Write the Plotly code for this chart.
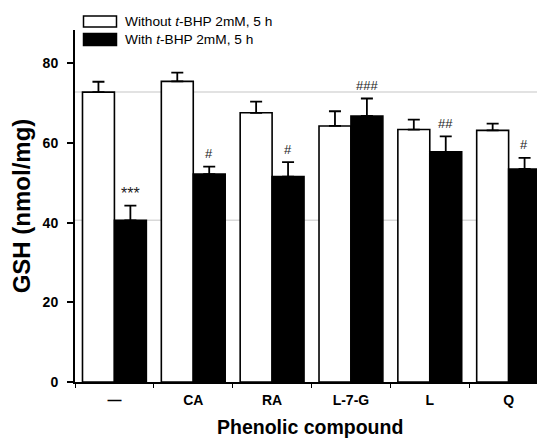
import plotly.graph_objects as go

# GSH content per phenolic compound, with and without t-BHP challenge
compounds = ["—", "CA", "RA", "L-7-G", "L", "Q"]
gsh_without = [72.8, 75.5, 67.6, 64.3, 63.4, 63.2]
err_without = [2.6, 2.2, 2.8, 3.7, 2.5, 1.7]
gsh_with = [40.6, 52.2, 51.6, 66.8, 57.8, 53.5]
err_with = [3.7, 1.9, 3.6, 4.4, 3.9, 2.8]
significance = ["***", "#", "#", "###", "##", "#"]

label_without = "Without <i>t</i>-BHP 2mM, 5 h"
label_with = "With <i>t</i>-BHP 2mM, 5 h"
x_title = "Phenolic compound"
y_title = "GSH (nmol/mg)"

FONT = "Liberation Sans, Arial, sans-serif"
W, H = 537, 439
ML, MR, MT, MB = 75, 0, 30, 57

fig = go.Figure()

fig.add_trace(go.Bar(
    x=compounds, y=gsh_without, name=label_without,
    marker=dict(color="white", line=dict(color="black", width=1.6)),
    error_y=dict(type="data", array=err_without, arrayminus=[0] * len(err_without),
                 symmetric=False, color="black", thickness=1.8, width=6),
    showlegend=False,
))
fig.add_trace(go.Bar(
    x=compounds, y=gsh_with, name=label_with,
    marker=dict(color="black", line=dict(color="black", width=1.6)),
    error_y=dict(type="data", array=err_with, arrayminus=[0] * len(err_with),
                 symmetric=False, color="black", thickness=1.8, width=6),
    showlegend=False,
))

# Reference lines at the untreated control levels
shapes = []
for level in (gsh_without[0], gsh_with[0]):
    shapes.append(dict(type="line", xref="paper", x0=0, x1=1, yref="y", y0=level, y1=level,
                       line=dict(color="#d9d9d9", width=1.5), layer="below"))

# Legend boxes (drawn by hand for wide swatches)
def px_x(p):
    return (p - ML) / (W - ML - MR)

def px_y(p):
    return 1 - (p - MT) / (H - MT - MB)

for (top, bot, fill) in [(16, 27, "white"), (33.5, 45.5, "black")]:
    shapes.append(dict(type="rect", xref="paper", yref="paper",
                       x0=px_x(83.5), x1=px_x(116.5), y0=px_y(bot), y1=px_y(top),
                       fillcolor=fill, line=dict(color="black", width=1.5)))

annotations = []
for (cy, text) in [(21.5, label_without), (39.5, label_with)]:
    annotations.append(dict(xref="paper", yref="paper", x=px_x(123), y=px_y(cy),
                            xanchor="left", yanchor="middle", text=text, showarrow=False,
                            font=dict(family=FONT, size=13.7, color="black")))

# x-axis title, set low near the bottom edge
annotations.append(dict(xref="paper", yref="paper", x=px_x(310), y=0, xanchor="center",
                        yanchor="middle", yshift=-45, text=x_title, showarrow=False,
                        font=dict(family=FONT, size=19.5, weight="bold", color="black")))

# Significance marks above the t-BHP bars
for i, (v, e, s) in enumerate(zip(gsh_with, err_with, significance)):
    size = 16 if "*" in s else 13
    annotations.append(dict(x=i + 0.2, y=v + e, xref="x", yref="y", text=s, showarrow=False,
                            yanchor="middle", yshift=12 if "*" in s else 13,
                            font=dict(family=FONT, size=size, color="#222")))

fig.update_layout(
    width=W, height=H,
    margin=dict(l=ML, r=MR, t=MT, b=MB, pad=0),
    paper_bgcolor="white", plot_bgcolor="white",
    barmode="group", bargap=0.19, bargroupgap=0,
    font=dict(family=FONT, color="black"),
    shapes=shapes, annotations=annotations,
    xaxis=dict(
        type="category", range=[-0.5, 5.36],
        showline=True, linecolor="black", linewidth=2,
        ticks="outside", tickson="boundaries", ticklen=4, tickwidth=1.2, tickcolor="black",
        ticklabelstandoff=4,
        tickfont=dict(family=FONT, size=14, weight="bold", color="black"),
        showgrid=False, zeroline=False,
    ),
    yaxis=dict(
        range=[0, 88.4], tickvals=[0, 20, 40, 60, 80],
        showline=True, linecolor="black", linewidth=2,
        ticks="outside", ticklen=6, tickwidth=1.5, tickcolor="black",
        ticklabelstandoff=6,
        tickfont=dict(family=FONT, size=14, weight="bold", color="black"),
        showgrid=False, zeroline=False,
        title=dict(text=y_title, standoff=5,
                   font=dict(family=FONT, size=24, weight="bold", color="black")),
    ),
)

fig.write_html("out.html")
